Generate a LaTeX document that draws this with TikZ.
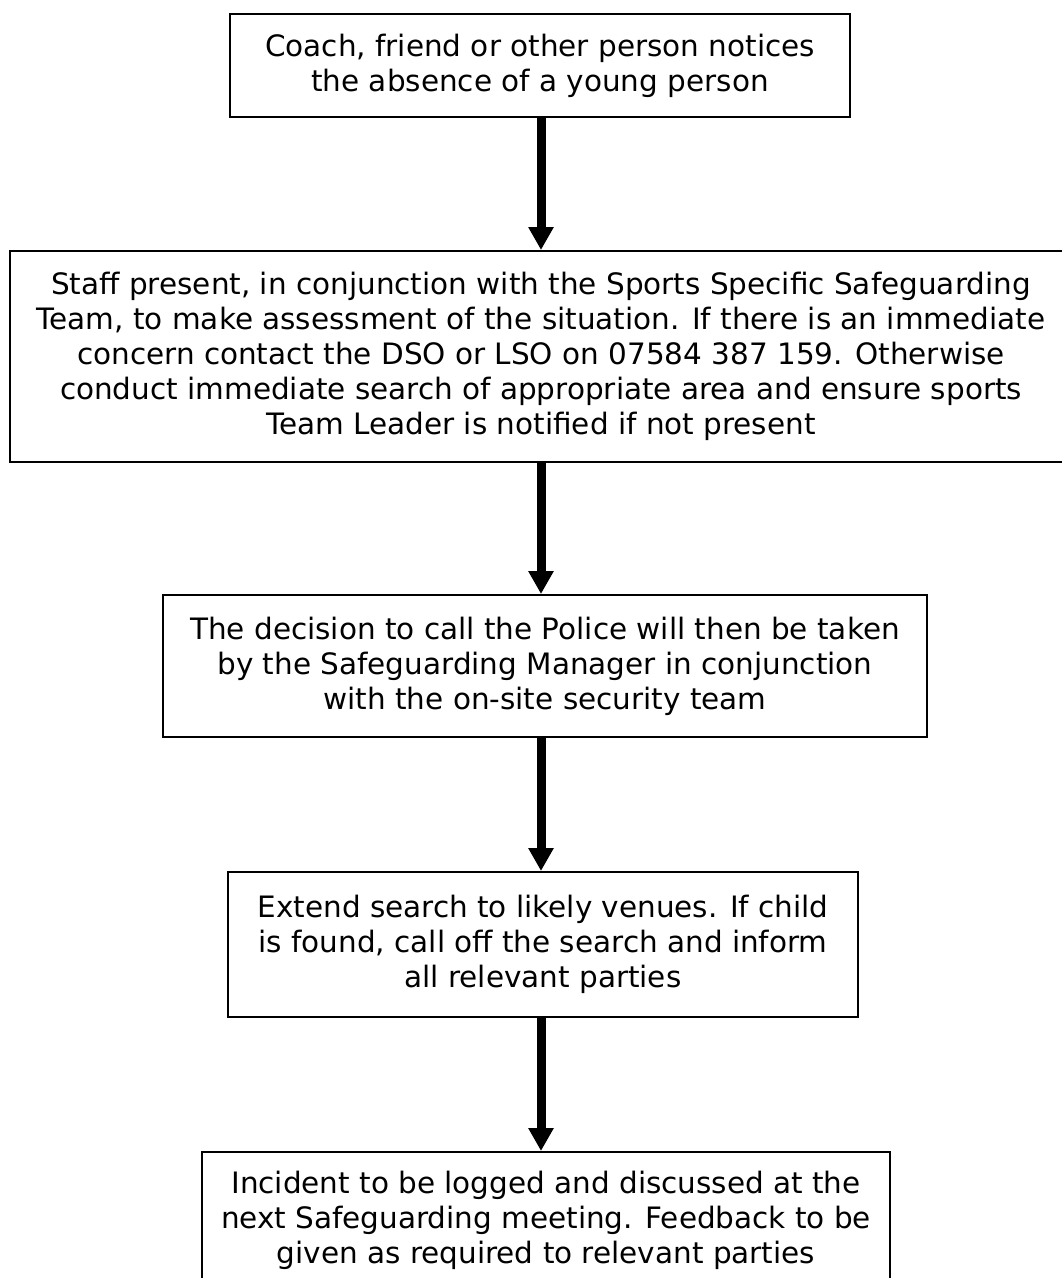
\documentclass[tikz,border=0pt]{standalone}
\usepackage{fontspec}
\setmainfont{DejaVu Sans}
\usetikzlibrary{arrows.meta}
\begin{document}
\begin{tikzpicture}[x=0.75pt,y=-0.75pt,
  box/.style={draw=black,line width=1.5pt,rectangle,align=center,inner sep=0pt,
    font=\fontsize{22.1pt}{26.25pt}\selectfont},
  flow/.style={line width=6.75pt,-{Triangle[width=18pt,length=17.25pt]}}]
\clip (0,0) rectangle (1062,1278);
\fill[white] (0,0) rectangle (1062,1278);
\coordinate (ax) at (541,0);
\node[box,minimum width=465pt,minimum height=77.25pt] (b1) at (540,65.5)
  {Coach, friend or other person notices\\the absence of a young person};
\node[box,minimum width=796.5pt,minimum height=158.25pt] (b2) at (541,356.5)
  {Staff present, in conjunction with the Sports Specific Safeguarding\\
   Team, to make assessment of the situation. If there is an immediate\\
   concern contact the DSO or LSO on 07584 387 159. Otherwise\\
   conduct immediate search of appropriate area and ensure sports\\
   Team Leader is notified if not present};
\node[box,minimum width=573pt,minimum height=106.5pt] (b3) at (545,666)
  {The decision to call the Police will then be taken\\
   by the Safeguarding Manager in conjunction\\
   with the on-site security team};
\node[box,minimum width=472.5pt,minimum height=108.75pt] (b4) at (543,944.5)
  {Extend search to likely venues. If child\\
   is found, call off the search and inform\\
   all relevant parties};
\node[box,minimum width=516pt,minimum height=102pt] (b5) at (546,1220)
  {Incident to be logged and discussed at the\\
   next Safeguarding meeting. Feedback to be\\
   given as required to relevant parties};
\draw[flow] (b1.south -| ax) -- (b2.north -| ax);
\draw[flow] (b2.south -| ax) -- (b3.north -| ax);
\draw[flow] (b3.south -| ax) -- (b4.north -| ax);
\draw[flow] (b4.south -| ax) -- (b5.north -| ax);
\end{tikzpicture}
\end{document}
